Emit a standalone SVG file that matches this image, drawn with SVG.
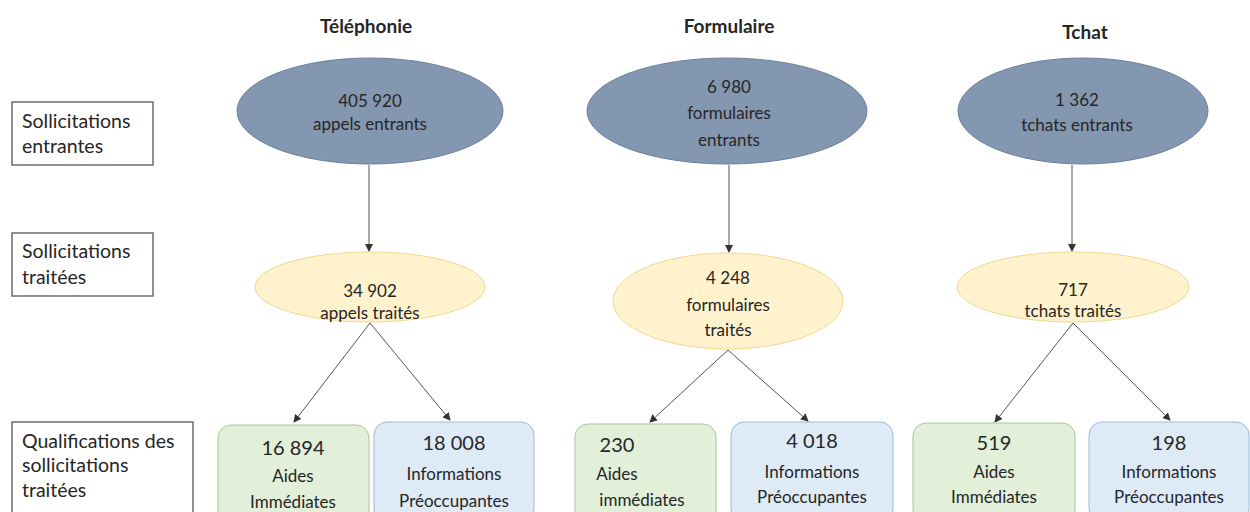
<svg xmlns="http://www.w3.org/2000/svg" width="1250" height="512" viewBox="0 0 1250 512">
<defs>
<marker id="arr" markerWidth="8" markerHeight="8" refX="7" refY="4" orient="auto" markerUnits="userSpaceOnUse">
<path d="M0,0 L8,4 L0,8 Z" fill="#333"/>
</marker>
<style>
text{font-family:Lato,"Open Sans",sans-serif;fill:#262626;text-anchor:middle}
.h{font-weight:bold;font-size:19px}
.t{font-size:17px}
.n{font-size:20px}
.l{font-size:19.5px;text-anchor:start}
.lab{fill:#fff;stroke:#555;stroke-width:1.3}
.in{fill:#8497b0;stroke:#6d7f9a;stroke-width:1}
.tr{fill:#fff2cc;stroke:#f0d88e;stroke-width:1}
.ai{fill:#e2efd9;stroke:#a8c796;stroke-width:1}
.ip{fill:#deebf7;stroke:#9dbbdc;stroke-width:1}
.c{stroke:#555;stroke-width:1;fill:none;marker-end:url(#arr)}
</style>
</defs>
<rect width="1250" height="512" fill="#fff"/>

<g id="headers">
<text class="h" x="366" y="33">Téléphonie</text>
<text class="h" x="729" y="33">Formulaire</text>
<text class="h" x="1085" y="39">Tchat</text>
</g>

<g id="label-entrantes">
<rect class="lab" x="12" y="102" width="141" height="63"/>
<text class="l" x="22" y="128">Sollicitations</text>
<text class="l" x="22" y="153">entrantes</text>
</g>
<g id="label-traitees">
<rect class="lab" x="12" y="233" width="141" height="63"/>
<text class="l" x="22" y="258">Sollicitations</text>
<text class="l" x="22" y="284">traitées</text>
</g>
<g id="label-qualif">
<rect class="lab" x="12" y="422" width="181" height="100"/>
<text class="l" x="22" y="448">Qualifications des</text>
<text class="l" x="22" y="472">sollicitations</text>
<text class="l" x="22" y="497">traitées</text>
</g>

<g id="connectors">
<line class="c" x1="369" y1="165" x2="369" y2="251"/>
<line class="c" x1="729" y1="165" x2="729" y2="252"/>
<line class="c" x1="1072" y1="165" x2="1072" y2="251"/>
<line class="c" x1="370" y1="323" x2="294" y2="422"/>
<line class="c" x1="370" y1="323" x2="450" y2="420"/>
<line class="c" x1="728" y1="350" x2="650" y2="422"/>
<line class="c" x1="728" y1="350" x2="808" y2="421"/>
<line class="c" x1="1073" y1="323" x2="995" y2="422"/>
<line class="c" x1="1073" y1="323" x2="1170" y2="420"/>
</g>

<g id="tel-in">
<ellipse class="in" cx="370" cy="111" rx="133" ry="53"/>
<text class="t" x="370" y="107">405 920</text>
<text class="t" x="370" y="130">appels entrants</text>
</g>
<g id="form-in">
<ellipse class="in" cx="727" cy="111" rx="140" ry="53"/>
<text class="t" x="729" y="93">6 980</text>
<text class="t" x="729" y="119">formulaires</text>
<text class="t" x="729" y="146">entrants</text>
</g>
<g id="tchat-in">
<ellipse class="in" cx="1083" cy="111" rx="125" ry="53"/>
<text class="t" x="1077" y="106">1 362</text>
<text class="t" x="1077" y="131">tchats entrants</text>
</g>

<g id="tel-tr">
<ellipse class="tr" cx="370" cy="287" rx="115" ry="35"/>
<text class="t" x="370" y="297">34 902</text>
<text class="t" x="370" y="319">appels traités</text>
</g>
<g id="form-tr">
<ellipse class="tr" cx="728" cy="301" rx="115" ry="48"/>
<text class="t" x="728" y="284">4 248</text>
<text class="t" x="728" y="311">formulaires</text>
<text class="t" x="728" y="336">traités</text>
</g>
<g id="tchat-tr">
<ellipse class="tr" cx="1073" cy="287" rx="116" ry="35"/>
<text class="t" x="1073" y="296">717</text>
<text class="t" x="1073" y="317">tchats traités</text>
</g>

<g id="tel-ai">
<rect class="ai" x="218" y="425" width="151" height="100" rx="13"/>
<text class="n" x="293" y="455">16 894</text>
<text class="t" x="293" y="482">Aides</text>
<text class="t" x="293" y="508">Immédiates</text>
</g>
<g id="tel-ip">
<rect class="ip" x="374" y="422" width="160" height="100" rx="13"/>
<text class="n" x="454" y="450">18 008</text>
<text class="t" x="454" y="480">Informations</text>
<text class="t" x="454" y="507">Préoccupantes</text>
</g>
<g id="form-ai">
<rect class="ai" x="575" y="424" width="141" height="100" rx="13"/>
<text class="n" x="617" y="452">230</text>
<text class="t" x="617" y="480">Aides</text>
<text class="t" x="642" y="506">immédiates</text>
</g>
<g id="form-ip">
<rect class="ip" x="731" y="422" width="162" height="100" rx="13"/>
<text class="n" x="812" y="448">4 018</text>
<text class="t" x="812" y="478">Informations</text>
<text class="t" x="812" y="503">Préoccupantes</text>
</g>
<g id="tchat-ai">
<rect class="ai" x="913" y="423" width="162" height="100" rx="13"/>
<text class="n" x="994" y="450">519</text>
<text class="t" x="994" y="478">Aides</text>
<text class="t" x="994" y="503">Immédiates</text>
</g>
<g id="tchat-ip">
<rect class="ip" x="1089" y="422" width="160" height="100" rx="13"/>
<text class="n" x="1169" y="450">198</text>
<text class="t" x="1169" y="478">Informations</text>
<text class="t" x="1169" y="503">Préoccupantes</text>
</g>
</svg>
